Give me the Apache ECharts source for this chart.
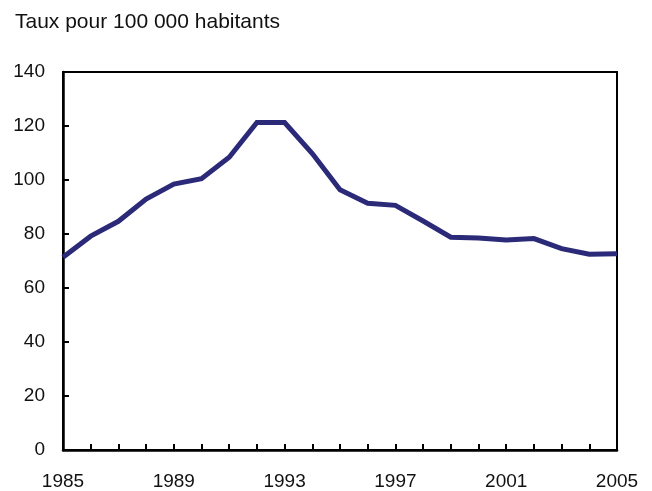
<!DOCTYPE html>
<html>
<head>
<meta charset="utf-8">
<script src="https://cdn.jsdelivr.net/npm/echarts@6/dist/echarts.min.js"></script>
<style>html,body{margin:0;padding:0;background:#fff}#c{width:652px;height:491px}</style>
</head>
<body>
<div id="c"></div>
<script>
const years = ['1985','1986','1987','1988','1989','1990','1991','1992','1993','1994','1995','1996','1997','1998','1999','2000','2001','2002','2003','2004','2005'];
const rates = [71.4,79.2,84.7,92.9,98.5,100.5,108.4,121.3,121.3,109.8,96.4,91.4,90.6,84.8,78.8,78.5,77.8,78.3,74.6,72.5,72.7];
const titleText = 'Taux pour 100 000 habitants';

const chart = echarts.init(document.getElementById('c'));
const font = 'Liberation Sans, Arial, Helvetica, sans-serif';
chart.setOption({
  animation: false,
  title: {
    text: titleText, left: 10, top: 7,
    textStyle: {fontFamily: font, fontSize: 21, fontWeight: 'normal', color: '#111'}
  },
  grid: {left: 63, right: 35, top: 72, bottom: 41, show: true, borderColor: '#000', borderWidth: 2, containLabel: false},
  xAxis: {
    type: 'category', data: years, boundaryGap: false,
    axisLine: {lineStyle: {color: '#000', width: 2.5}},
    axisTick: {inside: true, length: 6, interval: 0, lineStyle: {color: '#000', width: 2}},
    axisLabel: {interval: 3, margin: 22, color: '#111', fontFamily: font, fontSize: 19},
    splitLine: {show: false}
  },
  yAxis: {
    type: 'value', min: 0, max: 140, interval: 20,
    axisLine: {show: true, lineStyle: {color: '#000', width: 2.5}},
    axisTick: {show: true, inside: true, length: 6, lineStyle: {color: '#000', width: 2}},
    axisLabel: {margin: 18, color: '#111', fontFamily: font, fontSize: 19},
    splitLine: {show: false}
  },
  series: [{
    type: 'line', data: rates, symbol: 'none',
    lineStyle: {color: '#2b2a78', width: 5, join: 'miter'}
  }]
});
</script>
</body>
</html>
